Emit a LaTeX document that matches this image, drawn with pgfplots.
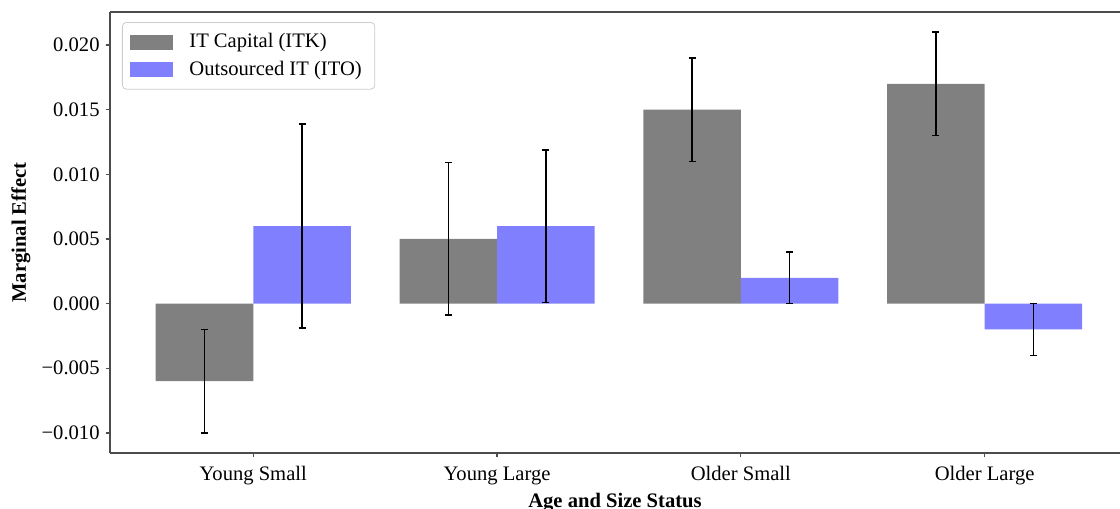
\documentclass[border=0pt]{standalone}
\usepackage{fontspec}
\setmainfont{Liberation Serif}
\usepackage{pgfplots}
\pgfplotsset{compat=1.18}
\usetikzlibrary{calc}
\definecolor{itk}{HTML}{808080}
\definecolor{ito}{HTML}{8080FF}
\begin{document}
\fontsize{10.3}{12}\selectfont
\begin{tikzpicture}
\begin{axis}[
  scale only axis, width=505pt, height=220.5pt,
  xmin=-0.5876, xmax=3.555, ymin=-0.01155, ymax=0.02255,
  axis x line=box, axis y line=left,
  axis line style={-, black!70, line width=0.6pt},
  tick pos=left, tick align=outside, major tick length=2pt,
  tick style={black!70, line width=0.6pt},
  xtick={0,1,2,3},
  xticklabels={Young Small, Young Large, Older Small, Older Large},
  ytick={-0.01,-0.005,0,0.005,0.01,0.015,0.02},
  yticklabels={−0.010,−0.005,0.000,0.005,0.010,0.015,0.020},
  xticklabel style={anchor=base, inner sep=0pt, yshift=-11.5pt},
  yticklabel style={anchor=east, inner sep=0pt, xshift=-3pt},
  xlabel={\bfseries Age and Size Status},
  ylabel={\bfseries Marginal Effect},
  xlabel style={at={(axis description cs:0.5,0)}, anchor=base, inner sep=0pt, yshift=-27pt},
  ylabel style={at={(axis description cs:-0.0881,0.5)}, anchor=center, inner sep=0pt},
  ybar, bar width=0.4,
  legend style={at={(axis description cs:0,1)}, anchor=north west, xshift=6pt, yshift=-5pt,
    draw=black!20, rounded corners=2pt, inner xsep=4pt, inner ysep=3pt,
    nodes={inner sep=2.5pt}, row sep=0pt},
  legend cell align=left,
  legend image code/.code={\fill[#1, sharp corners] (0pt,-3.75pt) rectangle (21.5pt,3.75pt); \path (27pt,0pt);},
  error bars/error bar style={black, line width=0.8pt},
  error bars/error mark options={rotate=90, black, line width=0.8pt, mark size=1.75pt},
]
\addplot[fill=itk, draw=none, bar shift=0pt,
  error bars/.cd, y dir=both, y explicit]
  coordinates {(-0.2,-0.006) +- (0,0.004) (0.8,0.005) +- (0,0.0059) (1.8,0.015) +- (0,0.004) (2.8,0.017) +- (0,0.004)};
\addlegendentry{IT Capital (ITK)}
\addplot[fill=ito, draw=none, bar shift=0pt,
  error bars/.cd, y dir=both, y explicit]
  coordinates {(0.2,0.006) +- (0,0.0079) (1.2,0.006) +- (0,0.0059) (2.2,0.002) +- (0,0.002) (3.2,-0.002) +- (0,0.002)};
\addlegendentry{Outsourced IT (ITO)}
\end{axis}
\pgfresetboundingbox
\path[use as bounding box] ($(current axis.south west)+(-55pt,-28pt)$) rectangle ($(current axis.north east)+(0pt,6pt)$);
\end{tikzpicture}
\end{document}
